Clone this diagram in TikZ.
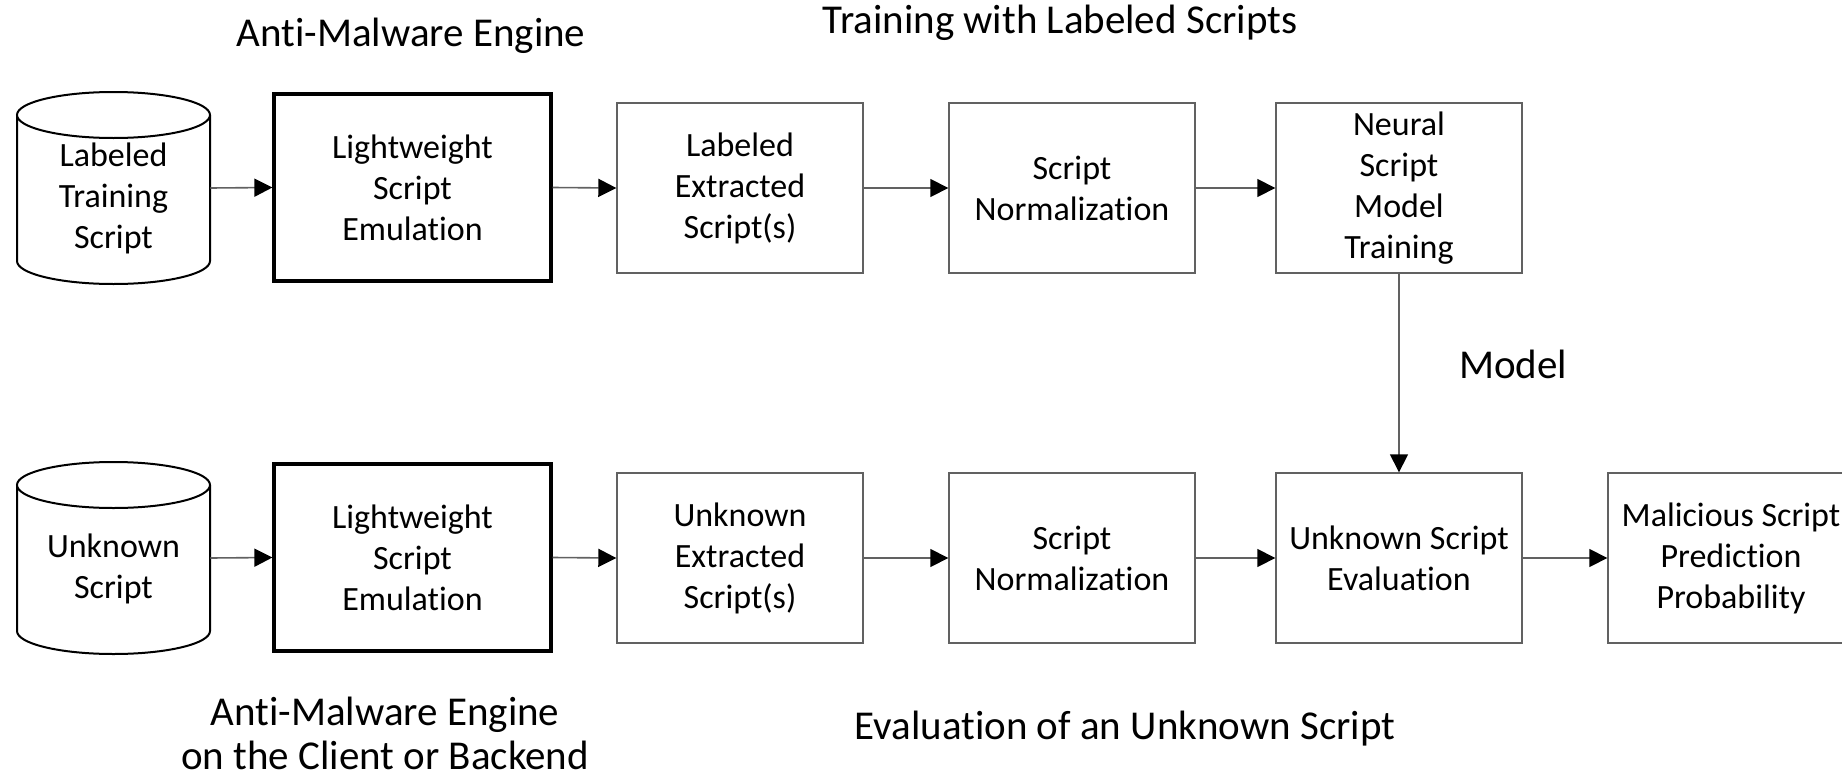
\documentclass[tikz,border=0pt]{standalone}
\usepackage{fontspec}
\setmainfont{Carlito}[Ligatures=NoCommon]
\usetikzlibrary{arrows.meta,calc}
\newcommand\bxfont{\fontsize{17}{20.5}\selectfont}
\newcommand\ttlfont{\fontsize{20.5}{22}\selectfont}
\definecolor{linegray}{gray}{0.38}
\begin{document}
\begin{tikzpicture}[x=0.5pt,y=0.5pt,
  box/.style={draw=linegray, line width=0.7pt, minimum width=123pt, minimum height=85pt, align=center, font=\bxfont, inner sep=0pt},
  boldbox/.style={draw=black, line width=1.6pt, minimum width=138.5pt, minimum height=93.5pt, align=center, font=\bxfont, inner sep=0pt},
  cylframe/.style={minimum width=96.5pt, minimum height=96pt, inner sep=0pt},
  cyltext/.style={align=center, font=\bxfont, inner sep=0pt},
  cylline/.style={draw=black, line width=1pt, fill=white},
  conn/.style={draw=linegray, line width=0.8pt, -{Triangle[length=9pt,width=9pt,fill=black,color=black]}},
  title/.style={align=center, font=\ttlfont, inner sep=0pt}
]
\useasboundingbox (0,0) rectangle (1842,-776);

% cylinders (shapes)
\draw[cylline] (17,-115) -- (17,-261) arc[start angle=180,end angle=360,x radius=48.25pt,y radius=11.5pt] -- (210,-115);
\draw[cylline] (113.5,-115) ellipse [x radius=48.25pt, y radius=11.5pt];
\draw[cylline] (17,-485) -- (17,-631) arc[start angle=180,end angle=360,x radius=48.25pt,y radius=11.5pt] -- (210,-485);
\draw[cylline] (113.5,-485) ellipse [x radius=48.25pt, y radius=11.5pt];

\node[cylframe] (cyl1) at (113.5,-188) {};
\node[cyltext] (cyl1t) at (113.5,-198.5) {Labeled\\Training\\Script};
\node[cylframe] (cyl2) at (113.5,-558) {};
\node[cyltext] (cyl2t) at (113.5,-569) {Unknown\\Script};

% top row
\node[boldbox] (em1) at (412.5,-187.5) {Lightweight\\Script\\Emulation};
\node[box] (lx) at (740,-188) {Labeled\\Extracted\\Script(s)};
\node[box] (n1) at (1072,-188) {Script\\Normalization};
\node[box] (tr) at (1399,-188) {Neural\\Script\\Model\\Training};

% bottom row
\node[boldbox] (em2) at (412.5,-557.5) {Lightweight\\Script\\Emulation};
\node[box] (ux) at (740,-558) {Unknown\\Extracted\\Script(s)};
\node[box] (n2) at (1072,-558) {Script\\Normalization};
\node[box] (ev) at (1399,-558) {Unknown Script\\Evaluation};
\node[box] (pr) at (1731,-558) {Malicious Script\\Prediction\\Probability};

% connectors
\draw[conn] (cyl1.east) -- (em1.west);
\draw[conn] (em1.east) -- (lx.west);
\draw[conn] (lx.east) -- (n1.west);
\draw[conn] (n1.east) -- (tr.west);
\draw[conn] (tr.south) -- (ev.north);
\draw[conn] (cyl2.east) -- (em2.west);
\draw[conn] (em2.east) -- (ux.west);
\draw[conn] (ux.east) -- (n2.west);
\draw[conn] (n2.east) -- (ev.west);
\draw[conn] (ev.east) -- (pr.west);

% titles
\node[title] (t1) at (411,-36) {Anti-Malware Engine};
\node[title] (t2) at (1060,-23) {Training with Labeled Scripts};
\node[title] (t3) at (1513,-364) {Model};
\node[title] (t4) at (385,-733) {Anti-Malware Engine\\on the Client or Backend};
\node[title] (t5) at (1125,-729) {Evaluation of an Unknown Script};
\end{tikzpicture}
\end{document}
